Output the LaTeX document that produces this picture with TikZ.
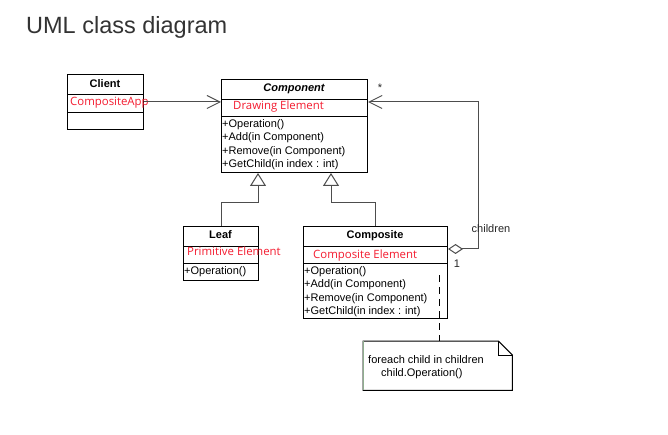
\documentclass[tikz,border=0pt]{standalone}
\usepackage{fontspec}
\setmainfont{Liberation Sans}
\newfontfamily\elemfont{Open Sans}
\usetikzlibrary{arrows.meta,calc}
\definecolor{titlegray}{HTML}{333333}
\definecolor{linkgray}{HTML}{4D4D4D}
\definecolor{elemred}{HTML}{F41C30}
\definecolor{noteedge}{HTML}{8FAF8F}

\begin{document}
\begin{tikzpicture}[x=1pt,y=-1pt,
  row/.style={draw=black, line width=1pt, inner sep=0pt, anchor=north west},
  hdr/.style={font=\bfseries\fontsize{11}{13}\selectfont, anchor=base, inner sep=0pt},
  mth/.style={font=\fontsize{11}{13}\selectfont, anchor=base west, inner sep=0pt},
  elem/.style={font=\elemfont\fontsize{11.4}{13}\selectfont, text=elemred, anchor=base west, inner sep=0pt},
  lbl/.style={font=\fontsize{11}{13}\selectfont, text=black!85, inner sep=0pt},
  link/.style={draw=linkgray, line width=1pt},
  assoc/.style={link, -{Straight Barb[length=13pt,width=13pt]}},
  agg/.style={link, {Diamond[open,length=15pt,width=10pt]}-{Straight Barb[length=13pt,width=13pt]}},
  inh/.style={link, -{Triangle[open,length=13pt,width=16pt,fill=white]}},
  notelink/.style={draw=black, line width=1pt, dash pattern=on 7pt off 5pt}
]
\useasboundingbox[fill=white] (0,0) rectangle (668,435);

% heading
\node[font=\fontsize{23.5}{27}\selectfont, text=titlegray, anchor=base west, inner sep=0pt]
  (title) at (26,34) {UML class diagram};

% class Client
\node[row, minimum width=76pt, minimum height=20pt] (clientHead) at (67,74) {};
\node[row, minimum width=76pt, minimum height=18pt] (clientAttr) at (67,94) {};
\node[row, minimum width=76pt, minimum height=17pt] (clientOps) at (67,112) {};
\node[hdr] (clientName) at (105,88) {Client};

% class Component
\node[row, minimum width=146pt, minimum height=20pt] (compHead) at (221,79) {};
\node[row, minimum width=146pt, minimum height=17pt] (compAttr) at (221,99) {};
\node[row, minimum width=146pt, minimum height=56pt] (compOps) at (221,116) {};
\node[hdr, font=\bfseries\itshape\fontsize{11}{13}\selectfont] (compName) at (294,92) {Component};
\node[elem] (compElem) at (233,110) {Drawing Element};
\node[mth] (compM1) at (222,127.5) {+Operation()};
\node[mth] (compM2) at (222,141) {+Add(in Component)};
\node[mth] (compM3) at (222,154.3) {+Remove(in Component)};
\node[mth] (compM4) at (222,167.5) {+GetChild(in index : int)};

% class Leaf
\node[row, minimum width=75pt, minimum height=20pt] (leafHead) at (183,226) {};
\node[row, minimum width=75pt, minimum height=17pt] (leafAttr) at (183,246) {};
\node[row, minimum width=75pt, minimum height=17pt] (leafOps) at (183,263) {};
\node[hdr] (leafName) at (220.5,239) {Leaf};
\node[elem] (leafElem) at (187,255.5) {Primitive Element};
\node[mth] (leafM1) at (184,274) {+Operation()};

% class Composite
\node[row, minimum width=144pt, minimum height=20pt] (compoHead) at (303,226) {};
\node[row, minimum width=144pt, minimum height=17pt] (compoAttr) at (303,246) {};
\node[row, minimum width=144pt, minimum height=55pt] (compoOps) at (303,263) {};
\node[hdr] (compoName) at (375,239) {Composite};
\node[elem] (compoElem) at (313,258.5) {Composite Element};
\node[mth] (compoM1) at (304,274) {+Operation()};
\node[mth] (compoM2) at (304,287.5) {+Add(in Component)};
\node[mth] (compoM3) at (304,301) {+Remove(in Component)};
\node[mth] (compoM4) at (304,314) {+GetChild(in index : int)};

% client uses component
\node[elem] (clientElem) at (70,106) {CompositeApp};
\coordinate (assocEnd) at ($(compAttr.north west)+(0,3)$);
\draw[assoc] (clientAttr.east |- assocEnd) -- (assocEnd);

% composite aggregates children
\coordinate (aggFrom) at ($(compoAttr.north east)+(0,3)$);
\coordinate (aggTo) at ($(compAttr.north east)+(0,3)$);
\coordinate (aggCorner) at ($(aggFrom)+(30,0)$);
\draw[agg] (aggFrom) -- (aggCorner) |- (aggTo);
\node[lbl, anchor=center] (multMany) at (380,88) {*};
\node[lbl, anchor=base] (roleChildren) at (491,233) {children};
\node[lbl, anchor=base] (multOne) at (457,267) {1};

% generalisations
\coordinate (inhLeaf) at ($(compOps.south west)+(37,0)$);
\coordinate (inhCompo) at ($(compOps.south west)+(110,0)$);
\draw[inh] (leafHead.north) -- ++(0,-23) -| (inhLeaf);
\draw[inh] (compoHead.north) -- ++(0,-23) -| (inhCompo);

% note attached to Composite
\node[inner sep=0pt, minimum width=149pt, minimum height=49pt, anchor=north west] (note) at (363,341) {};
\draw[black, line width=1pt, line join=miter]
  (note.north west) -- ($(note.north east)+(-14,0)$) -- ($(note.north east)+(0,14)$)
  -- (note.south east) -- (note.south west) -- cycle;
\draw[black, line width=1pt]
  ($(note.north east)+(-14,0)$) -- ($(note.north east)+(-14,14)$) -- ($(note.north east)+(0,14)$);
\draw[noteedge, line width=1pt] (note.south west) -- (note.north west);
\node[mth] (noteL1) at (368,363) {foreach child in children};
\node[mth] (noteL2) at (381,376) {child.Operation()};
\coordinate (dashTop) at ($(compoOps.north east)+(-9,12)$);
\draw[notelink] (dashTop) -- (dashTop |- note.north);
\end{tikzpicture}
\end{document}
